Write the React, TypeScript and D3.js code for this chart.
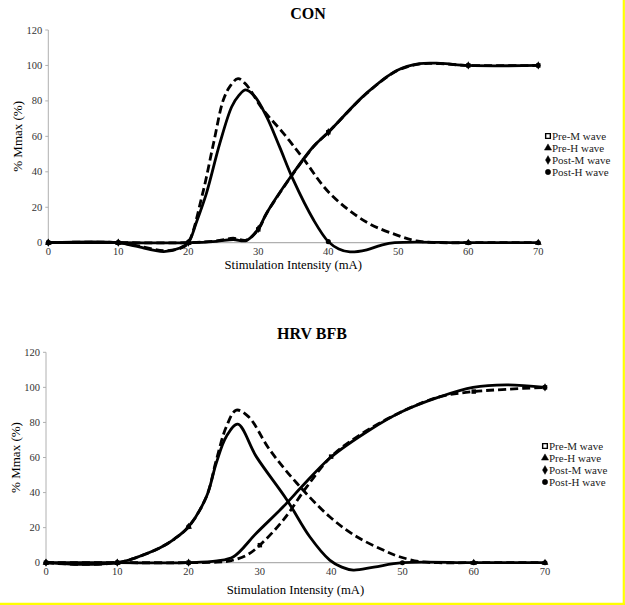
import React from 'react';
import { scaleLinear, line, curveCatmullRom, symbol, symbolSquare, symbolTriangle, symbolDiamond, symbolCircle } from 'd3';

// stimulation intensity ticks (mA) and %Mmax ticks
const xTicks = [0, 10, 20, 30, 40, 50, 60, 70];
const yTicks = [0, 20, 40, 60, 80, 100, 120];
const seriesNames = ['Pre-M wave', 'Pre-H wave', 'Post-M wave', 'Post-H wave'];

// CON group
const conPreMx = [0, 10, 20, 24, 26.4, 28.3, 30, 31.2, 34.5, 37.9, 40, 45.5, 49.8, 53, 56, 60, 70];
const conPreMy = [0, 0, 0, 1, 2.5, 1.5, 7.5, 16.6, 36.3, 54.2, 62.3, 84.3, 97, 100.8, 101, 100, 100];
const conPreHx = [0, 10, 13, 16.5, 19, 20, 22, 23.6, 25, 26, 27.1, 28.2, 30.7, 33.6, 36.4, 40.2, 45.5, 49.8, 52.6, 56, 60, 70];
const conPreHy = [0, 0, -2, -4.5, -3, 0, 27, 56, 80.5, 88.5, 92.6, 89.5, 74.9, 61.7, 47.6, 27.9, 11.5, 4.3, 1, 0, 0, 0];
const conPostMx = [0, 10, 20, 24, 26.4, 28.3, 30, 31.2, 34.5, 37.9, 40, 45.5, 49.8, 53, 56, 60, 70];
const conPostMy = [0, 0, 0, 0.8, 1.8, 1.2, 7.8, 16.8, 36.5, 54.4, 62.3, 84.5, 97.2, 101, 101.2, 100, 100];
const conPostHx = [0, 10, 12.5, 16.5, 18.8, 20, 21.2, 22.6, 24.5, 26.2, 27.2, 28.2, 29.5, 31.2, 33, 35, 37.9, 40, 41.5, 43.1, 45.5, 47.5, 49.5, 60, 70];
const conPostHy = [0, 0, -2, -5, -3, 0, 12, 28, 56, 76.7, 83, 86.2, 82.5, 71, 54.5, 35.4, 12.8, 0.6, -3.5, -5.2, -4, -1.5, 0, 0, 0];

// HRV BFB group
const hrvPreMx = [0, 10, 20, 24, 26, 28.2, 30, 33.3, 36.6, 40, 44, 49.9, 55.3, 60, 64.6, 70];
const hrvPreMy = [0, 0, 0, 0.3, 1.2, 4.4, 10, 24.4, 43.4, 60.5, 72.8, 86.1, 94.7, 97.6, 98.9, 100];
const hrvPreHx = [0, 5, 10, 12, 14, 16, 18, 20, 22.5, 23.9, 25.3, 26.7, 28.4, 31.4, 35.2, 39.8, 43.6, 47.8, 49.6, 52.5, 55, 60, 70];
const hrvPreHy = [0, -1, 0, 2, 5, 8.5, 13.5, 20.5, 37.6, 58.6, 77.6, 87, 83.3, 64.3, 45.3, 26.2, 14.8, 6.3, 3.4, 0.6, 0, 0, 0];
const hrvPostMx = [0, 10, 20, 24, 26.3, 29.5, 33.3, 36.1, 39.8, 45.4, 49.9, 55.3, 59.9, 64.6, 70];
const hrvPostMy = [0, 0, 0, 1, 3.4, 16.8, 32, 44.3, 59.6, 75.7, 86.1, 94.7, 100, 101.4, 100];
const hrvPostHx = [0, 5, 10, 12, 14, 16, 18, 20, 22.5, 23.9, 25.3, 26.9, 29.5, 33.8, 37, 39.8, 41.5, 43.1, 46, 50, 60, 70];
const hrvPostHy = [0, -1, 0, 2, 5, 8.5, 13.5, 20.5, 37.6, 57, 72, 79, 60.5, 35.8, 14.8, 1.5, -2.5, -4.2, -2.5, 0, 0, 0];

type Series = { name: string; xs: number[]; ys: number[]; dashed: boolean };

const conSeries: Series[] = [
  { name: seriesNames[0], xs: conPreMx, ys: conPreMy, dashed: true },
  { name: seriesNames[1], xs: conPreHx, ys: conPreHy, dashed: true },
  { name: seriesNames[2], xs: conPostMx, ys: conPostMy, dashed: false },
  { name: seriesNames[3], xs: conPostHx, ys: conPostHy, dashed: false },
];

const hrvSeries: Series[] = [
  { name: seriesNames[0], xs: hrvPreMx, ys: hrvPreMy, dashed: true },
  { name: seriesNames[1], xs: hrvPreHx, ys: hrvPreHy, dashed: true },
  { name: seriesNames[2], xs: hrvPostMx, ys: hrvPostMy, dashed: false },
  { name: seriesNames[3], xs: hrvPostHx, ys: hrvPostHy, dashed: false },
];

const symbols = [symbolSquare, symbolTriangle, symbolDiamond, symbolCircle];
const FONT = '"Liberation Serif", "Times New Roman", serif';

interface PanelProps {
  title: string;
  series: Series[];
  left: number;
  right: number;
  top: number;
  bottom: number;
  titleX: number;
  titleY: number;
  labelY: number;
  legendX: number;
  legendY: number;
}

const Panel: React.FC<PanelProps> = ({ title, series, left, right, top, bottom, titleX, titleY, labelY, legendX, legendY }) => {
  const x = scaleLinear().domain([0, 70]).range([left, right]);
  const y = scaleLinear().domain([0, 120]).range([bottom, top]);

  const path = line<[number, number]>()
    .x(d => x(d[0]))
    .y(d => y(d[1]))
    .curve(curveCatmullRom.alpha(0.5));

  return (
    <g fontFamily={FONT}>
      <text x={titleX} y={titleY} textAnchor="middle" fontSize={16} fontWeight="bold">{title}</text>

      {/* y axis */}
      <line x1={left} x2={left} y1={top} y2={bottom} stroke="#b0b0b0" strokeWidth={1} />
      {yTicks.map(t => (
        <g key={t}>
          <line x1={left - 3} x2={left} y1={y(t)} y2={y(t)} stroke="#b0b0b0" />
          <text x={left - 6} y={y(t) + 3.5} textAnchor="end" fontSize={10.5} fill="#333">{t}</text>
        </g>
      ))}
      {/* x axis */}
      <line x1={left} x2={right} y1={y(0)} y2={y(0)} stroke="#b0b0b0" strokeWidth={1.2} />
      {xTicks.map(t => (
        <text key={t} x={x(t)} y={y(0) + 12.5} textAnchor="middle" fontSize={10.5} fill="#333">{t}</text>
      ))}

      <text x={(left + right) / 2} y={labelY} textAnchor="middle" fontSize={12.7}>Stimulation Intensity (mA)</text>
      <text transform={`translate(${left - 26},${(top + bottom) / 2}) rotate(-90)`} textAnchor="middle" fontSize={13}>% Mmax (%)</text>

      {series.map((s, i) => {
        const pts = s.xs.map((v, k) => [v, s.ys[k]] as [number, number]);
        return (
          <g key={s.name}>
            <path d={path(pts) || ''} fill="none" stroke="#000" strokeWidth={2.8}
              strokeDasharray={s.dashed ? '8,4' : undefined} />
            {pts.filter(p => p[0] % 10 === 0).map((p, k) => (
              <path key={k} d={symbol(symbols[i], 20)() || ''} transform={`translate(${x(p[0])},${y(p[1])})`} fill="#000" />
            ))}
          </g>
        );
      })}

      {/* legend */}
      {series.map((s, i) => (
        <g key={s.name} transform={`translate(${legendX},${legendY + i * 12})`}>
          <path d={symbol(symbols[i], 22)() || ''} fill={i === 0 ? '#fff' : '#000'} stroke="#000" strokeWidth={i === 0 ? 1.4 : 0.5} />
          <text x={4} y={3.8} fontSize={11} fill="#222">{s.name}</text>
        </g>
      ))}
    </g>
  );
};

export default function App() {
  return (
    <div style={{ position: 'fixed', left: 0, top: 0 }}>
      <svg width={625} height={605} style={{ display: 'block', background: '#fff' }}>
        <rect x={0} y={0} width={625} height={605} fill="#fff" />
        <Panel title="CON" series={conSeries} left={48.3} right={538.3} top={30} bottom={242.7}
          titleX={308} titleY={19} labelY={269} legendX={548} legendY={136} />
        <Panel title="HRV BFB" series={hrvSeries} left={46} right={545} top={352.3} bottom={562.7}
          titleX={312} titleY={339} labelY={594} legendX={545} legendY={446} />
        <line x1={0} x2={625} y1={603.8} y2={603.8} stroke="#ffff00" strokeWidth={2.2} />
        <line x1={623.8} x2={623.8} y1={0} y2={605} stroke="#ffff00" strokeWidth={2.2} />
      </svg>
    </div>
  );
}
